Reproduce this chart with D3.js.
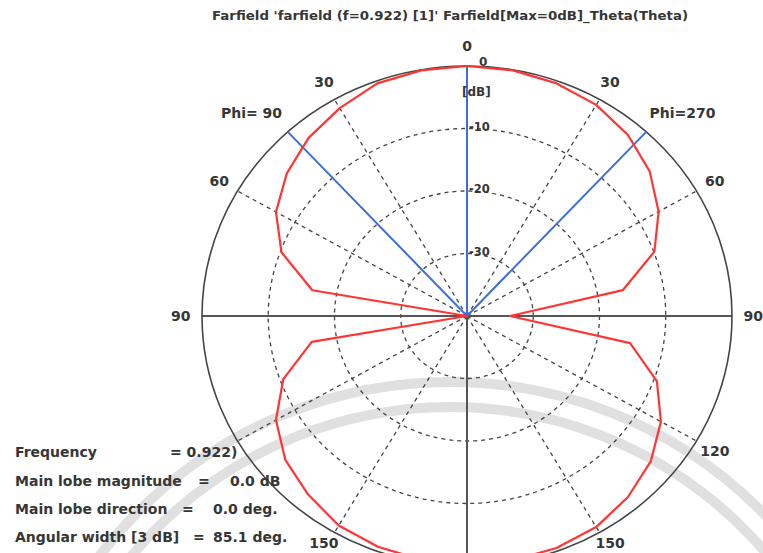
<!DOCTYPE html>
<html>
<head>
<meta charset="utf-8">
<script src="https://cdn.jsdelivr.net/npm/d3@7"></script>
<style>
  html, body { margin: 0; padding: 0; background: #fff; }
  svg { display: block; }
  text { font-family: "DejaVu Sans", Verdana, sans-serif; font-weight: bold; fill: #363636; }
</style>
</head>
<body>
<svg id="chart" width="763" height="553"></svg>
<script>
// ---- data ----
const titleText = "Farfield 'farfield (f=0.922) [1]' Farfield[Max=0dB]_Theta(Theta)";
const thetaDeg = [0,10,20,30,40,50,60,70,80,90,100,110,120,130,140,150,160,170,180];
const phi90dB  = [0,-0.1,-0.4,-1.6,-2.8,-4.5,-6.7,-10.2,-16.3,-40,-16.2,-10.5,-6.7,-4.2,-2.7,-1.3,-0.7,-0.4,-0.3];
const phi270dB = [0,-0.1,-0.4,-1.0,-2.2,-4.0,-6.6,-9.9,-16.1,-33.5,-15.0,-9.5,-6.2,-3.8,-2.2,-1.0,-0.5,-0.3,-0.3];
const ringTicks = [-30,-20,-10];
const ringLabels = ["-30","-20","-10"];
const spokeAngles = [30,60,120,150];
const angleLabelDeg  = [0,-30,30,-60,60,-90,90,120,-150,150];
const angleLabelText = ["0","30","30","60","60","90","90","120","150","150"];
const phiLabelDeg = [-45,45];
const phiLabelText = ["Phi= 90","Phi=270"];
const beamHalfWidth = 42.55; // 85.1 / 2
const infoLabels = ["Frequency","Main lobe magnitude","Main lobe direction","Angular width [3 dB]"];
const infoEquals = ["= 0.922)","=","=","="];
const infoValues = ["","0.0 dB","0.0 deg.","85.1 deg."];

// ---- layout ----
const svg = d3.select("#chart");
const cx = 467, cy = 316, RX = 265, RY = 250;
const r = d3.scaleLinear().domain([-40, 0]).range([0, 1]).clamp(true);
const xs = d3.scaleLinear().domain([-1, 1]).range([cx - RX, cx + RX]);
const ys = d3.scaleLinear().domain([-1, 1]).range([cy + RY, cy - RY]);
const rad = d => d * Math.PI / 180;
const px = (deg, rr) => xs(rr * Math.sin(rad(deg)));
const py = (deg, rr) => ys(rr * Math.cos(rad(deg)));

// watermark arcs (light grey)
const wm = svg.append("g");
[440, 415].forEach(R => {
  wm.append("circle").attr("cx", 450).attr("cy", 822).attr("r", R)
    .attr("fill", "none").attr("stroke", "#e0e0e0").attr("stroke-width", 10);
});

// title
svg.append("text").attr("x", 450).attr("y", 20).attr("text-anchor", "middle")
  .attr("textLength", 476).attr("lengthAdjust", "spacingAndGlyphs")
  .style("font-size", "11.5px").text(titleText);

const g = svg.append("g");

// dashed rings
ringTicks.forEach(t => {
  g.append("ellipse").attr("cx", cx).attr("cy", cy)
    .attr("rx", xs(r(t)) - cx).attr("ry", cy - ys(r(t)))
    .attr("fill", "none").attr("stroke", "#444").attr("stroke-width", 1.3)
    .attr("stroke-dasharray", "4,4");
});
// dashed spokes
spokeAngles.forEach(a => {
  [a, -a].forEach(d => {
    g.append("line").attr("x1", cx).attr("y1", cy)
      .attr("x2", px(d, 1)).attr("y2", py(d, 1))
      .attr("stroke", "#444").attr("stroke-width", 1.3).attr("stroke-dasharray", "4,4");
  });
});
// solid axes
g.append("line").attr("x1", xs(-1)).attr("x2", xs(1)).attr("y1", cy).attr("y2", cy)
  .attr("stroke", "#555").attr("stroke-width", 2);
g.append("line").attr("x1", cx).attr("x2", cx).attr("y1", ys(1)).attr("y2", ys(-1))
  .attr("stroke", "#555").attr("stroke-width", 2);
// outer ellipse
g.append("ellipse").attr("cx", cx).attr("cy", cy).attr("rx", RX).attr("ry", RY)
  .attr("fill", "none").attr("stroke", "#444").attr("stroke-width", 1.6);

// blue lines
[0, -beamHalfWidth, beamHalfWidth].forEach(d => {
  g.append("line").attr("x1", cx).attr("y1", cy)
    .attr("x2", px(d, 1)).attr("y2", py(d, 1))
    .attr("stroke", "#3d6fd9").attr("stroke-width", 2);
});

// red pattern
const line = d3.line().x(d => px(d[0], r(d[1]))).y(d => py(d[0], r(d[1])));
const left = thetaDeg.map((t, i) => [-t, phi90dB[i]]);
const right = thetaDeg.map((t, i) => [t, phi270dB[i]]);
[left, right].forEach(pts => {
  g.append("path").attr("d", line(pts)).attr("fill", "none")
    .attr("stroke", "#ff3535").attr("stroke-width", 2.2).attr("stroke-linejoin", "round");
});

// dB labels
svg.append("text").attr("x", 479).attr("y", 66).style("font-size", "12px").text("0");
svg.append("text").attr("x", 462).attr("y", 96).style("font-size", "12px").text("[dB]");
ringTicks.forEach((t, i) => {
  svg.append("text").attr("x", 469).attr("y", ys(r(t)) + 2).style("font-size", "11.5px").text(ringLabels[i]);
});

// angle labels
angleLabelDeg.forEach((d, i) => {
  let yy = py(d, 1.08) + 5;
  if (Math.abs(d) === 150) yy = Math.min(yy, 548);
  svg.append("text").attr("x", px(d, 1.08)).attr("y", yy)
    .attr("text-anchor", "middle").style("font-size", "14px").text(angleLabelText[i]);
});
phiLabelDeg.forEach((d, i) => {
  svg.append("text").attr("x", px(d, 1.15)).attr("y", py(d, 1.15) + 5)
    .attr("text-anchor", "middle").style("font-size", "14px").text(phiLabelText[i]);
});

// info text
const infoY = [457, 486, 514, 542];
const eqX = [170, 198, 182, 193];
const valX = [0, 230, 213, 213];
infoLabels.forEach((s, i) => {
  svg.append("text").attr("x", 15).attr("y", infoY[i]).style("font-size", "14px").text(s);
  svg.append("text").attr("x", eqX[i]).attr("y", infoY[i]).style("font-size", "14px").text(infoEquals[i]);
  if (infoValues[i]) svg.append("text").attr("x", valX[i]).attr("y", infoY[i]).style("font-size", "14px").text(infoValues[i]);
});
</script>
</body>
</html>
